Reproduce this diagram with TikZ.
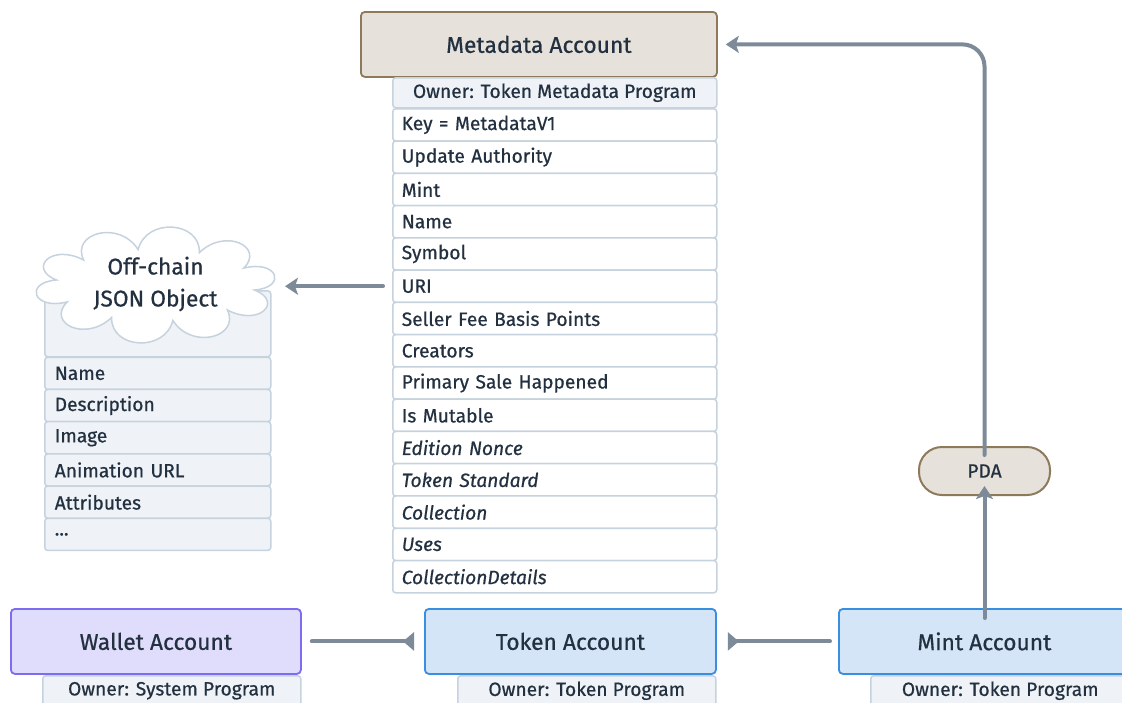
\documentclass[tikz,border=0pt]{standalone}
\usepackage{fontspec}
\setmainfont{Fira Sans}[FakeBold=0.6]
\usetikzlibrary{arrows.meta}
\definecolor{txt}{HTML}{223040}
\definecolor{beige}{HTML}{E6E2DB}
\definecolor{brown}{HTML}{8C7A5A}
\definecolor{rowfill}{HTML}{EFF3F7}
\definecolor{rowline}{HTML}{C6D2DD}
\definecolor{lav}{HTML}{E0DCFB}
\definecolor{lavline}{HTML}{7C6CF0}
\definecolor{bluefill}{HTML}{D3E5F6}
\definecolor{blueline}{HTML}{3A8EE0}
\definecolor{arrowc}{HTML}{7D8B99}
\newcommand{\hdrfont}{\fontsize{22.8}{32}\selectfont}
\newcommand{\rowfont}{\fontsize{19.2}{22}\selectfont}
\begin{document}
\begin{tikzpicture}[x=1pt,y=-1pt,
  hdr/.style={draw, rounded corners=4pt, line width=1.8pt, font=\hdrfont, text=txt, inner sep=0pt, anchor=north west, minimum height=65pt},
  ownrow/.style={draw=rowline, fill=rowfill, rounded corners=3pt, line width=1.5pt, inner sep=0pt, anchor=north west, minimum height=30pt, font=\rowfont, text=txt},
  mrow/.style={draw=rowline, fill=white, rounded corners=3pt, line width=1.5pt, anchor=north west, minimum height=32.27pt, inner ysep=0pt, inner xsep=9pt, text width=306pt, align=left, font=\rowfont, text=txt},
  lrow/.style={draw=rowline, fill=rowfill, rounded corners=3pt, line width=1.5pt, anchor=north west, minimum height=32.2pt, inner ysep=0pt, inner xsep=10pt, text width=206pt, align=left, font=\rowfont, text=txt},
  conn/.style={draw=arrowc, line width=4pt, line cap=round},
  arrtip/.style={-{Stealth[length=13pt,width=17pt,inset=3pt]}},
  revtip/.style={{Triangle[reversed,length=11pt,width=18pt]}-}
]
\clip (0,0) rectangle (1122,702);

% Metadata account
\node[hdr, fill=beige, draw=brown, minimum width=356pt] (meta) at (360,11) {Metadata Account};
\node[ownrow, minimum width=324pt] (metaown) at (392,77) {Owner: Token Metadata Program};
\foreach \t [count=\i] in {Key = MetadataV1, Update Authority, Mint, Name, Symbol, URI, Seller Fee Basis Points, Creators, Primary Sale Happened, Is Mutable, {\itshape Edition Nonce}, {\itshape Token Standard}, {\itshape Collection}, {\itshape Uses}, {\itshape CollectionDetails}}
  \node[mrow] (m\i) at (392,{108+(\i-1)*32.27}) {\t};

% Off-chain JSON
\node[lrow, minimum height=66pt] (jhead) at (44,290) {};
\path[draw=rowline, fill=white, line width=1.5pt] ({155.5+100*cos(8)},{285+36*sin(8)})
  \foreach \k in {1,2,3,4,5,6,7,8,9,10} {
    .. controls ({155.5+132*cos((\k-1)*36+8+6)},{285+68*sin((\k-1)*36+8+6)})
    and ({155.5+132*cos(\k*36+8-6)},{285+68*sin(\k*36+8-6)})
    .. ({155.5+100*cos(\k*36+8)},{285+36*sin(\k*36+8)})
  } -- cycle;
\node[align=center, font=\hdrfont, text=txt, inner sep=0pt] (cloud) at (155.5,284) {Off-chain\\JSON Object};
\coordinate (cloudE) at (278,285);
\node[lrow] (j1) at (44,356.5) {Name};
\node[lrow] (j2) at (44,388.7) {Description};
\node[lrow] (j3) at (44,420.9) {Image};
\node[lrow] (j4) at (44,453.1) {Animation URL};
\node[lrow] (j5) at (44,485.3) {Attributes};
\node[lrow] (j6) at (44,517.5) {.{}.{}.};

% bottom accounts
\node[hdr, fill=lav, draw=lavline, minimum width=290pt] (wallet) at (10,608) {Wallet Account};
\node[ownrow, minimum width=258pt] (walletown) at (42,675) {Owner: System Program};
\node[hdr, fill=bluefill, draw=blueline, minimum width=291pt] (token) at (424,608) {Token Account};
\node[ownrow, minimum width=258pt] (tokenown) at (457,675) {Owner: Token Program};
\node[hdr, fill=bluefill, draw=blueline, minimum width=291pt] (mint) at (838,608) {Mint Account};
\node[ownrow, minimum width=259pt] (mintown) at (870,675) {Owner: Token Program};

% PDA
\node[draw=brown, fill=beige, line width=2pt, rounded corners=23pt, minimum width=131pt, minimum height=48pt, inner sep=0pt, font=\rowfont, text=txt] (pda) at (984.5,471) {PDA};

% connectors
\draw[conn, arrtip] ([xshift=-9pt]m6.west) -- ([xshift=7pt]m6.west -| cloudE);
\draw[conn, revtip] ([xshift=-10pt]token.west) -- ([xshift=10pt]wallet.east);
\draw[conn, revtip] ([xshift=11pt]token.east) -- ([xshift=-8pt]mint.west);
\draw[conn, arrtip] ([yshift=-10pt]mint.north -| pda.south) -- ([yshift=10pt]pda.south);
\draw[conn, arrtip, rounded corners=22pt] ([yshift=-9pt]pda.north) |- ([xshift=8pt]meta.east);
\end{tikzpicture}
\end{document}
